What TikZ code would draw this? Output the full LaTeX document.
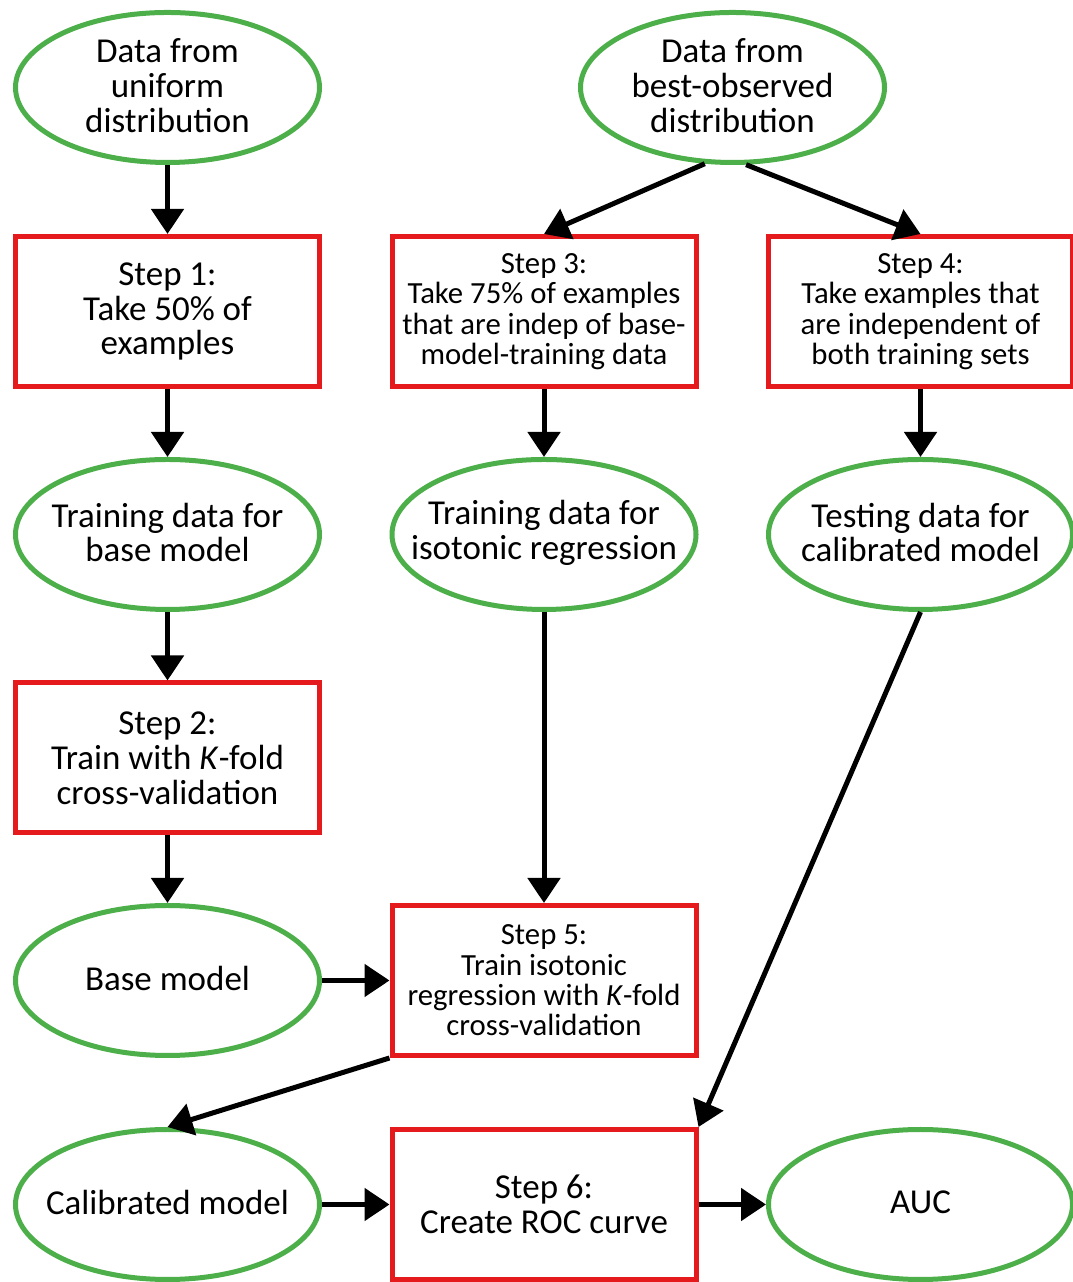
\documentclass[tikz,border=0pt]{standalone}
\usepackage{fontspec}
\setmainfont{Carlito}
\usetikzlibrary{shapes.geometric, arrows.meta, positioning}
\definecolor{stepred}{HTML}{E41A1C}
\definecolor{datagreen}{HTML}{4DAF4A}
\newcommand{\biglbl}{\fontsize{19.9}{19.9}\selectfont}
\newcommand{\smalllbl}{\fontsize{17.5}{17.3}\selectfont}
\tikzset{
  % passo della procedura (rettangolo rosso)
  stepbox/.style={draw=stepred, line width=0.1cm, minimum width=6.08cm,
    minimum height=3cm, align=center, fill=white, font=\biglbl},
  smallstep/.style={stepbox, font=\smalllbl},
  % insieme di dati o modello (ellisse verde)
  dataoval/.style={ellipse, draw=datagreen, line width=0.1cm, minimum width=6.08cm,
    minimum height=3cm, inner sep=0pt, fill=white},
  ovaltxt/.style={align=center, font=\biglbl, yshift=0.04cm},
  % freccia del flusso
  flow/.style={-{Triangle[length=0.5cm, width=0.64cm]}, line width=0.1cm},
}

\begin{document}
\begin{tikzpicture}
  \useasboundingbox (0,0) rectangle (21.46,25.64);
  % colonna sinistra
  \node[dataoval, label={[ovaltxt]center:{Data from\\uniform\\distribution}}] (unif) at (3.35,23.89) {};
  \node[stepbox] (step1) at (3.35,19.41) {Step 1:\\Take 50\% of\\examples};
  \node[dataoval, label={[ovaltxt]center:{Training data for\\base model}}] (trbase) at (3.35,14.95) {};
  \node[stepbox] (step2) at (3.35,10.48) {Step 2:\\Train with \textit{K}-fold\\cross-validation};
  \node[dataoval, label={[ovaltxt]center:{Base model}}] (base) at (3.35,6.03) {};
  \node[dataoval, label={[ovaltxt]center:{Calibrated model}}] (calib) at (3.35,1.55) {};
  % colonna centrale
  \node[dataoval, label={[ovaltxt]center:{Data from\\best-observed\\distribution}}] (best) at (14.65,23.89) {};
  \node[smallstep] (step3) at (10.88,19.41) {Step 3:\\Take 75\% of examples\\that are indep of base-\\model-training data};
  \node[dataoval, label={[ovaltxt]center:{Training data for\\isotonic regression}}] (triso) at (10.88,14.95) {};
  \node[smallstep] (step5) at (10.88,6.03) {Step 5:\\Train isotonic\\regression with \textit{K}-fold\\cross-validation};
  \node[stepbox] (step6) at (10.88,1.55) {Step 6:\\Create ROC curve};
  % colonna destra
  \node[smallstep] (step4) at (18.41,19.41) {Step 4:\\Take examples that\\are independent of\\both training sets};
  \node[dataoval, label={[ovaltxt]center:{Testing data for\\calibrated model}}] (test) at (18.41,14.95) {};
  \node[dataoval, label={[ovaltxt]center:{AUC}}] (auc) at (18.41,1.55) {};

  \draw[flow] (unif) -- (step1);
  \draw[flow] (step1) -- (trbase);
  \draw[flow] (trbase) -- (step2);
  \draw[flow] (step2) -- (base);
  \draw[flow] (best.250) -- (step3.north);
  \draw[flow] (best.280) -- (step4.north);
  \draw[flow] (step3) -- (triso);
  \draw[flow] (step4) -- (test);
  \draw[flow] (triso) -- (step5);
  \draw[flow] (base) -- (step5);
  \draw[flow] (step5.south west) -- (calib.north);
  \draw[flow] (test.south) -- (step6.north east);
  \draw[flow] (calib) -- (step6);
  \draw[flow] (step6) -- (auc);
\end{tikzpicture}
\end{document}
